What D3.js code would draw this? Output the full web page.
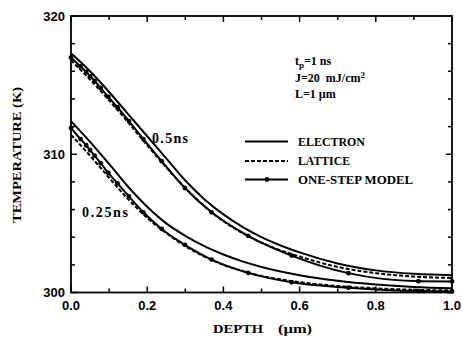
<!DOCTYPE html>
<html>
<head>
<meta charset="utf-8">
<script src="https://cdn.jsdelivr.net/npm/d3@7"></script>
<style>
  html, body { margin: 0; padding: 0; background: #fff; }
  svg { display: block; }
  .serif { font-family: "Liberation Serif", "Times New Roman", serif; font-weight: bold; fill: #000; }
  .sans  { font-family: "Liberation Sans", Arial, sans-serif; font-weight: bold; fill: #000; }
</style>
</head>
<body>
<svg id="chart" width="462" height="337"></svg>
<script>
// Depth grid (µm) for the electron and lattice curves
const depthGrid = [0, 0.05, 0.1, 0.15, 0.2, 0.25, 0.3, 0.35, 0.4, 0.45, 0.5, 0.55, 0.6, 0.7, 0.8, 0.9, 1.0];

// t = 0.5 ns
const electron05 = [317.3, 316.0, 314.5, 312.9, 311.3, 309.7, 308.1, 306.75, 305.65, 304.75, 304.0, 303.4, 302.9, 302.1, 301.6, 301.35, 301.25];
const lattice05  = [316.8, 315.4, 313.9, 312.3, 310.65, 309.05, 307.55, 306.25, 305.15, 304.3, 303.6, 303.05, 302.6, 301.85, 301.4, 301.15, 301.05];

// t = 0.25 ns
const electron025 = [312.4, 310.9, 309.3, 307.65, 306.2, 305.0, 304.1, 303.35, 302.75, 302.25, 301.85, 301.52, 301.25, 300.85, 300.58, 300.4, 300.3];
const lattice025  = [311.4, 309.9, 308.3, 306.75, 305.4, 304.3, 303.35, 302.6, 302.0, 301.55, 301.2, 300.95, 300.75, 300.47, 300.3, 300.2, 300.15];

// One-step model, evaluated on a stretched mesh (marker positions)
const oneStepDepth = [0, 0.025, 0.04, 0.05, 0.062, 0.078, 0.098, 0.122, 0.152, 0.19, 0.238, 0.299, 0.369, 0.465, 0.579, 0.728, 0.912, 1.0];
const oneStep05  = [317.0, 316.35, 315.95, 315.65, 315.3, 314.8, 314.15, 313.4, 312.4, 311.1, 309.5, 307.56, 305.8, 304.1, 302.67, 301.4, 300.82, 300.8];
const oneStep025 = [311.9, 311.1, 310.65, 310.3, 309.9, 309.35, 308.65, 307.9, 306.95, 305.8, 304.6, 303.45, 302.38, 301.42, 300.74, 300.35, 300.1, 300.08];

// Axis ticks
const xTickValues = [0, 0.2, 0.4, 0.6, 0.8, 1.0];
const xTickLabels = ["0.0", "0.2", "0.4", "0.6", "0.8", "1.0"];
const yTickValues = [300, 310, 320];
const yTickLabels = ["300", "310", "320"];

const legendLabels = ["ELECTRON", "LATTICE", "ONE-STEP MODEL"];

const svg = d3.select("#chart");
const plot = { left: 71, right: 452, top: 16, bottom: 292.5 };

const x = d3.scaleLinear().domain([0, 1]).range([plot.left, plot.right]);
const y = d3.scaleLinear().domain([300, 320]).range([plot.bottom, plot.top]);

// Curves
const line = d3.line().x(d => x(d[0])).y(d => y(d[1])).curve(d3.curveMonotoneX);
const zipPts = (xs, ys) => xs.map((v, i) => [v, ys[i]]);

const g = svg.append("g");
const solidStyle = sel => sel.attr("fill", "none").attr("stroke", "#000").attr("stroke-width", 2);

[electron05, electron025].forEach(vals => {
  g.append("path").datum(zipPts(depthGrid, vals)).attr("d", line).call(solidStyle);
});
[lattice05, lattice025].forEach(vals => {
  g.append("path").datum(zipPts(depthGrid, vals)).attr("d", line).call(solidStyle)
    .attr("stroke-dasharray", "4,2");
});
[oneStep05, oneStep025].forEach(vals => {
  const pts = zipPts(oneStepDepth, vals);
  g.append("path").datum(pts).attr("d", line).call(solidStyle);
  g.selectAll(null).data(pts).enter().append("circle")
    .attr("cx", d => x(d[0])).attr("cy", d => y(d[1])).attr("r", 2.4).attr("fill", "#000");
});

// Frame
svg.append("rect")
  .attr("x", plot.left).attr("y", plot.top)
  .attr("width", plot.right - plot.left).attr("height", plot.bottom - plot.top)
  .attr("fill", "none").attr("stroke", "#000").attr("stroke-width", 1.8);

// Inward ticks on all four sides
const xMinor = d3.range(0, 1.0001, 0.1);
const yMinor = d3.range(300, 320.001, 2);
const tickG = svg.append("g").attr("stroke", "#000").attr("stroke-width", 1.5);
xMinor.forEach(v => {
  const major = Math.abs(Math.round(v * 5) - v * 5) < 1e-6;
  const len = major ? 6 : 4;
  tickG.append("line").attr("x1", x(v)).attr("x2", x(v)).attr("y1", plot.bottom).attr("y2", plot.bottom - len);
  tickG.append("line").attr("x1", x(v)).attr("x2", x(v)).attr("y1", plot.top).attr("y2", plot.top + len);
});
yMinor.forEach(v => {
  const major = v % 10 === 0;
  const len = major ? 6 : 4;
  tickG.append("line").attr("y1", y(v)).attr("y2", y(v)).attr("x1", plot.left).attr("x2", plot.left + len);
  tickG.append("line").attr("y1", y(v)).attr("y2", y(v)).attr("x1", plot.right).attr("x2", plot.right - len);
});

// Tick labels
svg.append("g").selectAll("text").data(xTickValues).enter().append("text")
  .attr("class", "sans").attr("font-size", 13)
  .attr("x", d => x(d)).attr("y", 310).attr("text-anchor", "middle")
  .text((d, i) => xTickLabels[i]);
svg.append("g").selectAll("text").data(yTickValues).enter().append("text")
  .attr("class", "sans").attr("font-size", 13)
  .attr("x", 65).attr("y", d => y(d) + 4.5).attr("text-anchor", "end")
  .text((d, i) => yTickLabels[i]);

// Axis titles
svg.append("text").attr("class", "serif").attr("font-size", 13)
  .attr("transform", "translate(21,155) rotate(-90)")
  .attr("text-anchor", "middle")
  .attr("textLength", 136).attr("lengthAdjust", "spacingAndGlyphs")
  .text("TEMPERATURE (K)");
svg.append("text").attr("class", "serif").attr("font-size", 13)
  .attr("x", 213).attr("y", 333)
  .attr("textLength", 50).attr("lengthAdjust", "spacingAndGlyphs")
  .text("DEPTH");
svg.append("text").attr("class", "serif").attr("font-size", 13)
  .attr("x", 278).attr("y", 333)
  .attr("textLength", 34).attr("lengthAdjust", "spacingAndGlyphs")
  .text("(µm)");

// Parameter block
const t1 = svg.append("text").attr("class", "serif").attr("font-size", 12).attr("x", 295).attr("y", 65);
t1.append("tspan").text("t");
t1.append("tspan").attr("font-size", 9).attr("dy", 3).text("p");
t1.append("tspan").attr("dy", -3).text("=1  ns");
const t2 = svg.append("text").attr("class", "serif").attr("font-size", 12).attr("x", 295).attr("y", 81.5)
  .attr("xml:space", "preserve");
t2.append("tspan").text("J=20  mJ/cm");
t2.append("tspan").attr("font-size", 9).attr("dy", -4).text("2");
svg.append("text").attr("class", "serif").attr("font-size", 12).attr("x", 295).attr("y", 98)
  .text("L=1 µm");

// Legend
const legendY = [141.5, 161, 179.5];
const lg = svg.append("g");
legendLabels.forEach((lab, i) => {
  const ln = lg.append("line").attr("x1", 245).attr("x2", 288)
    .attr("y1", legendY[i]).attr("y2", legendY[i])
    .attr("stroke", "#000").attr("stroke-width", 2);
  if (i === 1) ln.attr("stroke-dasharray", "4,2");
  if (i === 2) lg.append("circle").attr("cx", 267).attr("cy", legendY[i]).attr("r", 2.4).attr("fill", "#000");
  lg.append("text").attr("class", "serif").attr("font-size", 12)
    .attr("x", 298).attr("y", legendY[i] + 4.3)
    .attr("textLength", [67, 52, 115][i]).attr("lengthAdjust", "spacingAndGlyphs")
    .text(lab);
});

// Time labels on the curve families
svg.append("text").attr("class", "serif").attr("font-size", 14)
  .attr("x", 152).attr("y", 142.5)
  .attr("textLength", 36).attr("lengthAdjust", "spacing")
  .text("0.5ns");
svg.append("text").attr("class", "serif").attr("font-size", 14)
  .attr("x", 82).attr("y", 216.5)
  .attr("textLength", 46).attr("lengthAdjust", "spacing")
  .text("0.25ns");
</script>
</body>
</html>
